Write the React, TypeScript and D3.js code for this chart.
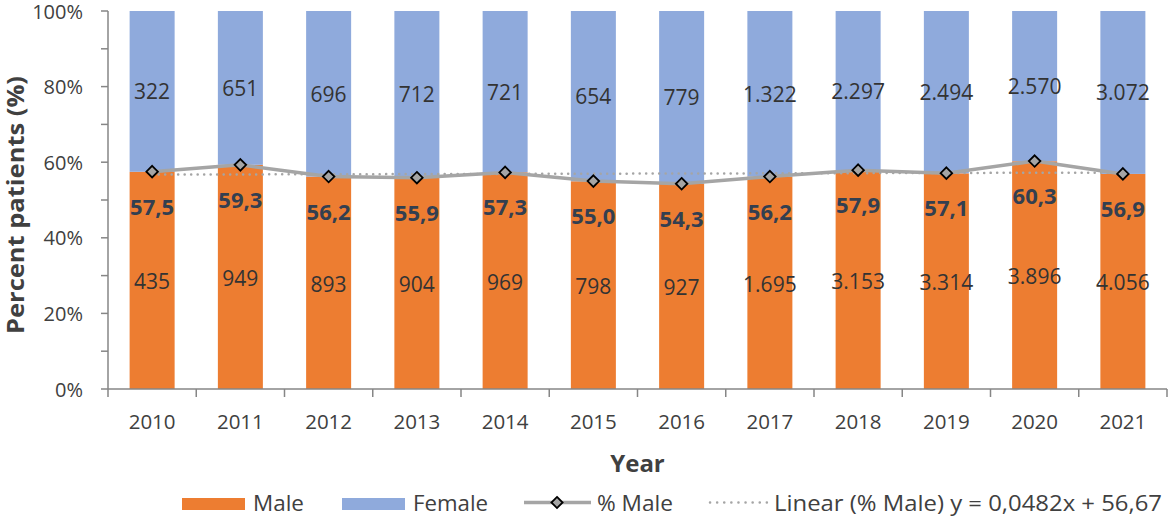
import React from "react";
import * as d3 from "d3";

const years = ["2010","2011","2012","2013","2014","2015","2016","2017","2018","2019","2020","2021"];
const maleCounts = [435, 949, 893, 904, 969, 798, 927, 1695, 3153, 3314, 3896, 4056];
const femaleCounts = [322, 651, 696, 712, 721, 654, 779, 1322, 2297, 2494, 2570, 3072];
const pctMale = [57.5, 59.3, 56.2, 55.9, 57.3, 55.0, 54.3, 56.2, 57.9, 57.1, 60.3, 56.9];
const trendSlope = 0.0482;
const trendIntercept = 56.67;
const yTicks = [0, 20, 40, 60, 80, 100];
const yMinorTicks = [0, 10, 20, 30, 40, 50, 60, 70, 80, 90, 100];

const W = 1170, H = 517;
const left = 108, right = 1167, top = 11, bottom = 389;

const ORANGE = "#ED7D31";
const BLUE = "#8FAADC";
const GRAY = "#A5A5A5";
const AXIS = "#868686";
const TXT = "#404040";
const LBL = "#333333";
const BOLD = "#333F50";
const FONT = "'Open Sans', 'Noto Sans', sans-serif";

const loc = d3.formatLocale({ decimal: ",", thousands: ".", grouping: [3], currency: ["", ""] });
const fmtCount = loc.format(",d");
const fmtPct = loc.format(".1f");

export default function App() {
  const x = d3.scaleBand<string>().domain(years).range([left, right]).paddingInner(0.49).paddingOuter(0.245);
  const xb = d3.scaleBand<string>().domain(years).range([left, right]);
  const y = d3.scaleLinear().domain([0, 100]).range([bottom, top]);

  const rows = years.map((yr, i) => {
    const tot = maleCounts[i] + femaleCounts[i];
    const m = (maleCounts[i] / tot) * 100;
    return { yr, i, m, male: maleCounts[i], female: femaleCounts[i], pct: pctMale[i] };
  });

  const cx = (yr: string) => (x(yr) as number) + x.bandwidth() / 2;

  const line = d3.line<typeof rows[number]>().x(d => cx(d.yr)).y(d => y(d.pct));
  const trend = d3.line<number>()
    .x(k => cx(years[k]))
    .y(k => y(trendSlope * (k + 1) + trendIntercept));

  const diamond = d3.symbol().type(d3.symbolDiamond2).size(85)();

  return (
    <svg width={W} height={H} style={{ position: "absolute", left: 0, top: 0, background: "#fff" }}>
      {/* bars */}
      {rows.map(d => (
        <g key={d.yr}>
          <rect x={x(d.yr)} width={x.bandwidth()} y={y(d.m)} height={y(0) - y(d.m)} fill={ORANGE} />
          <rect x={x(d.yr)} width={x.bandwidth()} y={y(100)} height={y(d.m) - y(100)} fill={BLUE} />
        </g>
      ))}

      {/* axes */}
      <line x1={left} x2={left} y1={top} y2={bottom} stroke={AXIS} strokeWidth={1.5} />
      {yMinorTicks.map(t => (
        <line key={t} x1={left - 7} x2={left} y1={y(t)} y2={y(t)} stroke={AXIS} strokeWidth={1.5} />
      ))}
      {yTicks.map(t => (
        <text key={t} x={83} y={y(t) + 7.5} textAnchor="end" fontFamily={FONT} fontSize={20} fill={TXT}>{t}%</text>
      ))}
      <line x1={left} x2={right} y1={bottom} y2={bottom} stroke={AXIS} strokeWidth={1.5} />
      {[...years.map(yr => xb(yr) as number), right].map((px, k) => (
        <line key={k} x1={px} x2={px} y1={bottom} y2={bottom + 8} stroke={AXIS} strokeWidth={1.5} />
      ))}
      {years.map(yr => (
        <text key={yr} x={cx(yr)} y={429} textAnchor="middle" fontFamily={FONT} fontSize={20.5} fill={TXT}>{yr}</text>
      ))}

      {/* trend */}
      <path d={trend(d3.range(years.length)) || ""} fill="none" stroke={GRAY} strokeWidth={2.5} strokeDasharray="0.1 6.4" strokeLinecap="round" />

      {/* line */}
      <path d={line(rows) || ""} fill="none" stroke={GRAY} strokeWidth={3.5} strokeLinejoin="round" />
      {rows.map(d => (
        <path key={d.yr} d={diamond || ""} transform={`translate(${cx(d.yr)},${y(d.pct)})`} fill={GRAY} stroke="#000" strokeWidth={1.8} />
      ))}

      {/* labels */}
      {rows.map(d => (
        <g key={d.yr}>
          <text x={cx(d.yr)} y={y(d.m / 2) + 1} textAnchor="middle" dominantBaseline="central" fontFamily={FONT} fontSize={21} fill={LBL}>{fmtCount(d.male)}</text>
          <text x={cx(d.yr)} y={y((d.m + 100) / 2)} textAnchor="middle" dominantBaseline="central" fontFamily={FONT} fontSize={21} fill={LBL}>{fmtCount(d.female)}</text>
          <text x={cx(d.yr)} y={y(d.pct) + 34} textAnchor="middle" dominantBaseline="central" fontFamily={FONT} fontSize={22} fontWeight="bold" fill={BOLD}>{fmtPct(d.pct)}</text>
        </g>
      ))}

      {/* axis titles */}
      <text transform={`translate(23.5,205) rotate(-90)`} textAnchor="middle" fontFamily={FONT} fontSize={22.5} fontWeight="bold" fill={TXT} textLength={258} lengthAdjust="spacingAndGlyphs">Percent patients (%)</text>
      <text x={(left + right) / 2} y={472} textAnchor="middle" fontFamily={FONT} fontSize={24} fontWeight="bold" fill={TXT}>Year</text>

      {/* legend */}
      <g fontFamily={FONT} fontSize={21.5} fill={TXT}>
        <rect x={182} y={498} width={63} height={12} fill={ORANGE} />
        <text x={253} y={511} textLength={51} lengthAdjust="spacingAndGlyphs">Male</text>
        <rect x={342} y={498} width={63} height={12} fill={BLUE} />
        <text x={413} y={511} textLength={75} lengthAdjust="spacingAndGlyphs">Female</text>
        <line x1={524} x2={591} y1={502.5} y2={502.5} stroke={GRAY} strokeWidth={3.5} />
        <path d={d3.symbol().type(d3.symbolDiamond2).size(80)() || ""} transform="translate(557,502.5)" fill={GRAY} stroke="#000" strokeWidth={1.8} />
        <text x={597} y={511} textLength={76} lengthAdjust="spacingAndGlyphs">% Male</text>
        <line x1={710} x2={767} y1={502.5} y2={502.5} stroke={GRAY} strokeWidth={2.5} strokeDasharray="0.1 7" strokeLinecap="round" />
        <text x={774} y={511} textLength={388} lengthAdjust="spacingAndGlyphs">{"Linear (% Male)  y = 0,0482x + 56,67"}</text>
      </g>
    </svg>
  );
}
